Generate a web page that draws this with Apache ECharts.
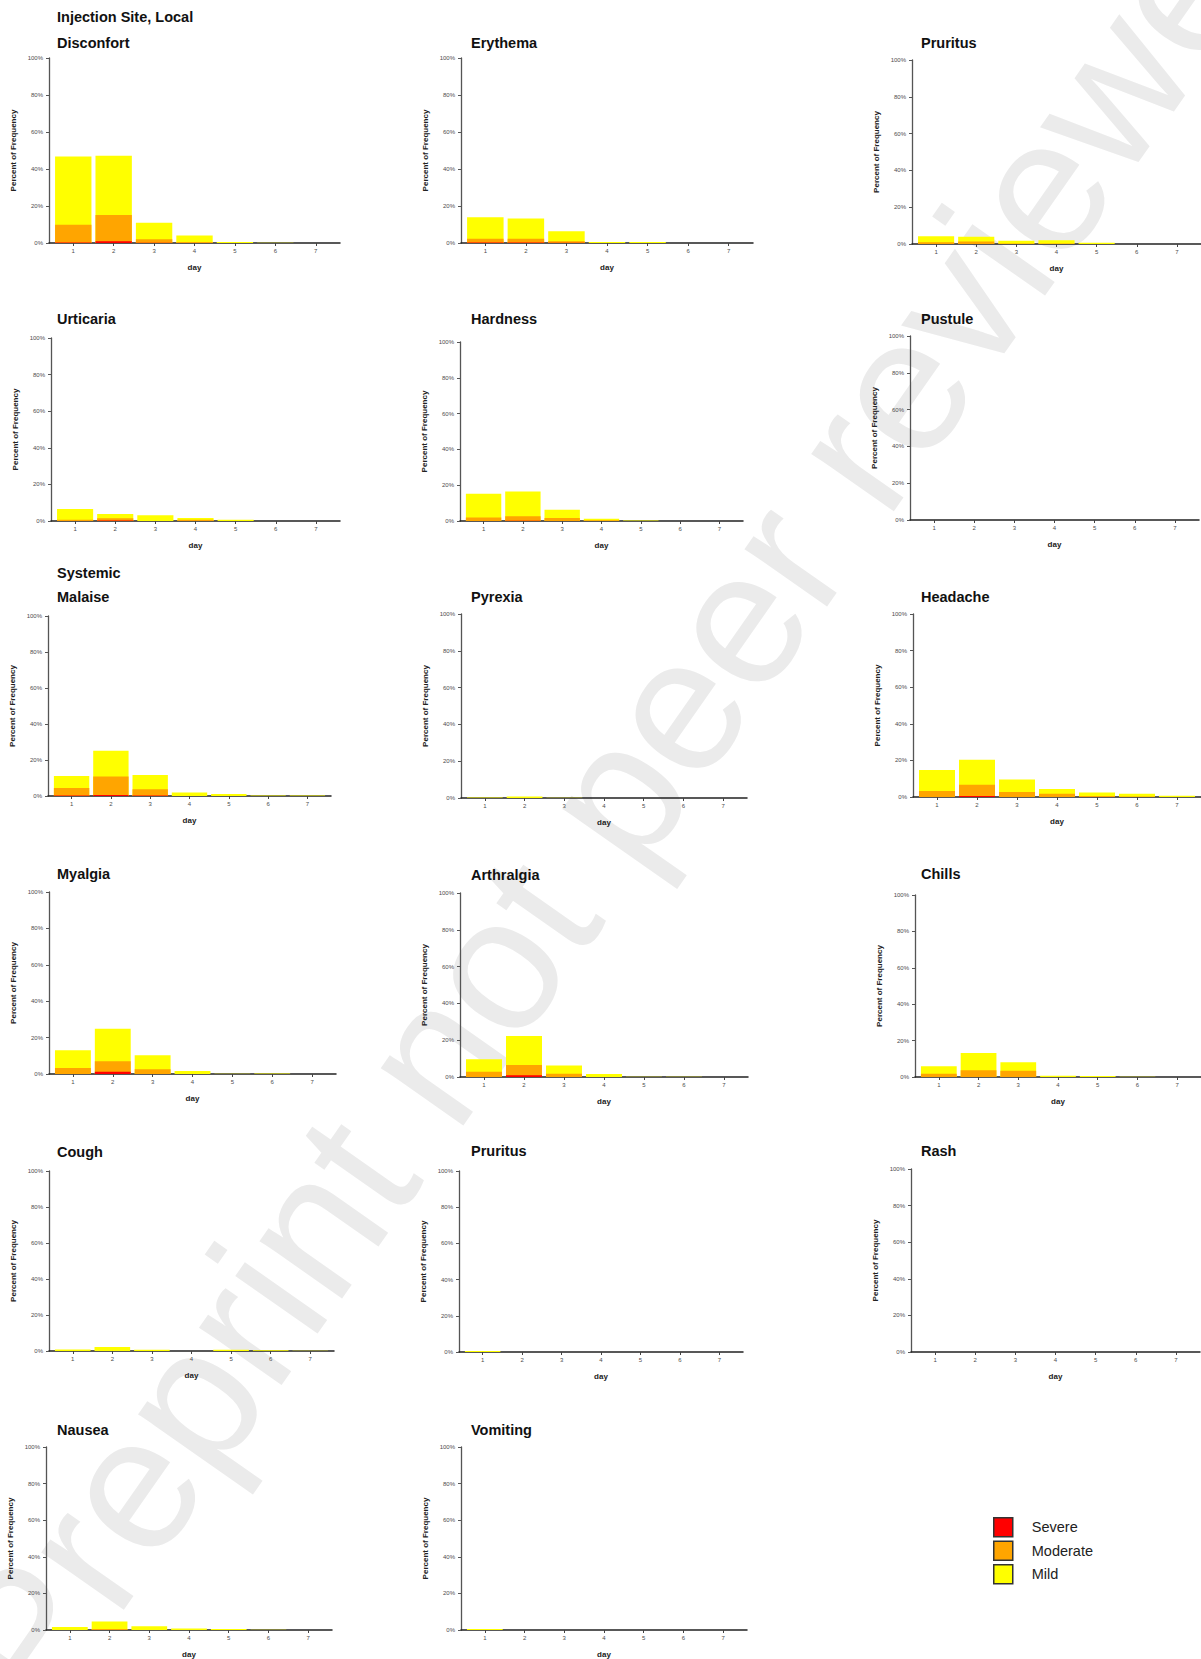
<!DOCTYPE html>
<html><head><meta charset="utf-8">
<script src="https://cdn.jsdelivr.net/npm/echarts@6/dist/echarts.min.js"></script>
<style>html,body{margin:0;padding:0;background:#fff}#c{width:1201px;height:1659px}</style>
</head><body><div id="c"></div><script>
// ---------- DATA ----------
const days = [1, 2, 3, 4, 5, 6, 7];
const levels = ['Severe', 'Moderate', 'Mild'];
const yTicks = [0, 20, 40, 60, 80, 100];
const sectionHeaders = ['Injection Site, Local', 'Systemic'];
const symptoms = ['Disconfort', 'Erythema', 'Pruritus', 'Urticaria', 'Hardness', 'Pustule',
  'Malaise', 'Pyrexia', 'Headache', 'Myalgia', 'Arthralgia', 'Chills',
  'Cough', 'Pruritus', 'Rash', 'Nausea', 'Vomiting'];

// percent of frequency per day: severe / moderate / mild
const disconfortSevere = [0.3, 0.9, 0.2, 0, 0, 0, 0];
const disconfortModerate = [9.6, 14.2, 1.8, 0.5, 0, 0, 0];
const disconfortMild = [36.9, 32.1, 9.0, 3.5, 0.5, 0.1, 0];
const erythemaSevere = [0.3, 0.3, 0.2, 0, 0, 0, 0];
const erythemaModerate = [2.0, 2.0, 0.7, 0, 0, 0, 0];
const erythemaMild = [11.6, 10.9, 5.4, 0.5, 0.5, 0, 0];
const pruritusLocalSevere = [0, 0, 0, 0, 0, 0, 0];
const pruritusLocalModerate = [0.9, 1.4, 0.3, 0.3, 0, 0, 0];
const pruritusLocalMild = [3.3, 2.6, 1.5, 1.7, 0.7, 0, 0];
const urticariaSevere = [0, 0.3, 0, 0, 0, 0, 0];
const urticariaModerate = [0.7, 1.2, 0, 0.7, 0, 0, 0];
const urticariaMild = [5.8, 2.3, 3.1, 0.9, 0.7, 0, 0];
const hardnessSevere = [0, 0.2, 0, 0, 0, 0, 0];
const hardnessModerate = [2.0, 2.4, 1.7, 0.4, 0, 0, 0];
const hardnessMild = [13.2, 13.9, 4.6, 0.9, 0.3, 0, 0];
const pustuleSevere = [0, 0, 0, 0, 0, 0, 0];
const pustuleModerate = [0, 0, 0, 0, 0, 0, 0];
const pustuleMild = [0, 0, 0, 0, 0, 0, 0];
const malaiseSevere = [0.3, 0.6, 0.3, 0, 0, 0, 0];
const malaiseModerate = [4.1, 10.3, 3.4, 0, 0, 0, 0];
const malaiseMild = [6.7, 14.3, 8.0, 2.0, 1.1, 0.3, 0.3];
const pyrexiaSevere = [0, 0, 0, 0, 0, 0, 0];
const pyrexiaModerate = [0, 0, 0, 0, 0, 0, 0];
const pyrexiaMild = [0.3, 0.8, 0.2, 0, 0, 0, 0];
const headacheSevere = [0, 0.5, 0, 0, 0, 0, 0];
const headacheModerate = [3.3, 6.2, 2.7, 1.8, 0.5, 0.3, 0];
const headacheMild = [11.5, 13.7, 6.8, 2.6, 1.9, 1.5, 0.7];
const myalgiaSevere = [0, 1.3, 0, 0, 0, 0, 0];
const myalgiaModerate = [3.3, 5.7, 2.6, 0, 0, 0, 0];
const myalgiaMild = [9.7, 17.9, 7.7, 1.6, 0.2, 0.3, 0];
const arthralgiaSevere = [0, 0.9, 0, 0, 0, 0, 0];
const arthralgiaModerate = [2.9, 5.6, 1.8, 0, 0, 0, 0];
const arthralgiaMild = [6.7, 15.8, 4.4, 1.6, 0.2, 0.1, 0];
const chillsSevere = [0, 0, 0, 0, 0, 0, 0];
const chillsModerate = [1.8, 3.7, 3.5, 0, 0, 0, 0];
const chillsMild = [4.1, 9.5, 4.6, 0.7, 0.5, 0.2, 0];
const coughSevere = [0, 0, 0, 0, 0, 0, 0];
const coughModerate = [0, 0, 0, 0, 0, 0, 0];
const coughMild = [0.9, 2.2, 0.7, 0, 0.7, 0.4, 0.2];
const pruritusSysSevere = [0, 0, 0, 0, 0, 0, 0];
const pruritusSysModerate = [0, 0, 0, 0, 0, 0, 0];
const pruritusSysMild = [0.5, 0, 0, 0, 0, 0, 0];
const rashSevere = [0, 0, 0, 0, 0, 0, 0];
const rashModerate = [0, 0, 0, 0, 0, 0, 0];
const rashMild = [0, 0, 0, 0, 0, 0, 0];
const nauseaSevere = [0, 0, 0, 0, 0, 0, 0];
const nauseaModerate = [0, 0.5, 0, 0, 0, 0, 0];
const nauseaMild = [1.7, 4.1, 2.0, 0.8, 0.5, 0.2, 0];
const vomitingSevere = [0, 0, 0, 0, 0, 0, 0];
const vomitingModerate = [0, 0, 0, 0, 0, 0, 0];
const vomitingMild = [0.5, 0, 0, 0, 0, 0, 0];

const panelData = [
  [disconfortSevere, disconfortModerate, disconfortMild],
  [erythemaSevere, erythemaModerate, erythemaMild],
  [pruritusLocalSevere, pruritusLocalModerate, pruritusLocalMild],
  [urticariaSevere, urticariaModerate, urticariaMild],
  [hardnessSevere, hardnessModerate, hardnessMild],
  [pustuleSevere, pustuleModerate, pustuleMild],
  [malaiseSevere, malaiseModerate, malaiseMild],
  [pyrexiaSevere, pyrexiaModerate, pyrexiaMild],
  [headacheSevere, headacheModerate, headacheMild],
  [myalgiaSevere, myalgiaModerate, myalgiaMild],
  [arthralgiaSevere, arthralgiaModerate, arthralgiaMild],
  [chillsSevere, chillsModerate, chillsMild],
  [coughSevere, coughModerate, coughMild],
  [pruritusSysSevere, pruritusSysModerate, pruritusSysMild],
  [rashSevere, rashModerate, rashMild],
  [nauseaSevere, nauseaModerate, nauseaMild],
  [vomitingSevere, vomitingModerate, vomitingMild]
];

// ---------- LAYOUT (positions / styles) ----------
const gridBoxes = [
  [49, 58, 291, 185], [461, 58, 292, 185], [912, 60, 290, 184],
  [51, 338, 289, 183], [460, 342, 283, 179], [910, 336, 289, 184],
  [48, 616, 283, 180], [461, 614, 286, 184], [913, 614, 288, 183],
  [49, 892, 287, 182], [460, 893, 288, 184], [915, 895, 286, 182],
  [49, 1171, 285, 180], [459, 1171, 284, 181], [911, 1169, 289, 183],
  [46, 1447, 286, 183], [461, 1447, 286, 183]
];
const titlePos = [
  [57, 43], [471, 43], [921, 43], [57, 319], [471, 319], [921, 319],
  [57, 597], [471, 597], [921, 597], [57, 874], [471, 875], [921, 874],
  [57, 1152], [471, 1151], [921, 1151], [57, 1430], [471, 1430]
];
const headerPos = [[57, 17], [57, 573]];
const levelColors = { Severe: '#FF0000', Moderate: '#FFA500', Mild: '#FFFF00' };
const FONT = '"Liberation Sans", Arial, Helvetica, sans-serif';

const grid = [], xAxis = [], yAxis = [], series = [];
gridBoxes.forEach((b, i) => {
  grid.push({ left: b[0], top: b[1], width: b[2], height: b[3], containLabel: false });
  xAxis.push({
    type: 'value', gridIndex: i, min: 0.4, max: 7.6,
    name: 'day', nameLocation: 'middle', nameGap: 20,
    nameTextStyle: { fontSize: 8, fontWeight: 'bold', color: '#222', fontFamily: FONT },
    axisLine: { show: true, onZero: false, lineStyle: { color: '#222', width: 1.5 } },
    axisTick: { show: true, length: 3, customValues: days, lineStyle: { color: '#444' } },
    axisLabel: { customValues: days, fontSize: 6, color: '#4d4d4d', margin: 5, fontFamily: FONT },
    splitLine: { show: false }
  });
  yAxis.push({
    type: 'value', gridIndex: i, min: yTicks[0], max: yTicks[yTicks.length - 1], interval: 20,
    name: 'Percent of Frequency', nameLocation: 'middle', nameGap: 32,
    nameTextStyle: { fontSize: 8, fontWeight: 'bold', color: '#222', fontFamily: FONT },
    axisLine: { show: true, onZero: false, lineStyle: { color: '#555', width: 1.3 } },
    axisTick: { show: true, length: 3, lineStyle: { color: '#555' } },
    axisLabel: { formatter: '{value}%', fontSize: 6, color: '#4d4d4d', margin: 6, fontFamily: FONT },
    splitLine: { show: false }
  });
  const [sev, mod, mild] = panelData[i];
  const cumSev = sev;
  const cumMod = sev.map((v, j) => v + mod[j]);
  const cumMild = cumMod.map((v, j) => v + mild[j]);
  // drawn back to front: Mild (total), Moderate, Severe
  [['Mild', cumMild], ['Moderate', cumMod], ['Severe', cumSev]].forEach(([lv, vals]) => {
    series.push({
      type: 'bar', name: lv, xAxisIndex: i, yAxisIndex: i,
      barWidth: '90%', barGap: '-100%',
      itemStyle: { color: levelColors[lv] },
      data: days.map((d, j) => [d, vals[j]])
    });
  });
});

const graphic = [];
graphic.push({
  type: 'text', x: 629, y: 774, rotation: 0.96, z: -10, silent: true,
  style: { text: 'Preprint not peer reviewed', font: '190px ' + FONT, fill: '#ebebeb',
    align: 'center', verticalAlign: 'middle' }
});
symptoms.forEach((s, i) => {
  graphic.push({ type: 'text', x: titlePos[i][0], y: titlePos[i][1],
    style: { text: s, font: 'bold 14.5px ' + FONT, fill: '#111', verticalAlign: 'middle' } });
});
sectionHeaders.forEach((h, i) => {
  graphic.push({ type: 'text', x: headerPos[i][0], y: headerPos[i][1],
    style: { text: h, font: 'bold 14.5px ' + FONT, fill: '#111', verticalAlign: 'middle' } });
});

const chart = echarts.init(document.getElementById('c'), null, { renderer: 'svg' });
chart.setOption({
  animation: false,
  backgroundColor: '#fff',
  textStyle: { fontFamily: FONT },
  grid, xAxis, yAxis, series, graphic,
  legend: {
    data: levels, orient: 'vertical', left: 988, top: 1512,
    itemWidth: 19, itemHeight: 19, itemGap: 3, icon: 'rect',
    itemStyle: { borderColor: '#333', borderWidth: 1.5 },
    textStyle: { fontSize: 14.5, color: '#222', padding: [0, 0, 0, 14], fontFamily: FONT }
  }
});
</script></body></html>
